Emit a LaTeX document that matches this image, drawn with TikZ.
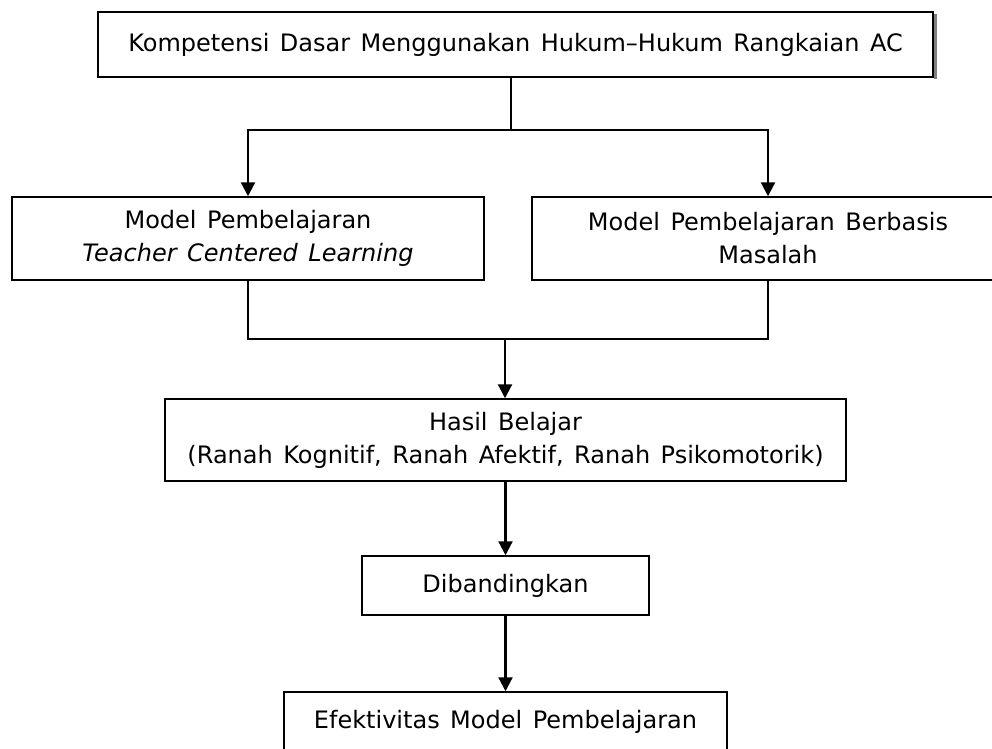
\documentclass[tikz,border=0pt]{standalone}
\usepackage{fontspec}
\setmainfont{DejaVu Sans}
\usetikzlibrary{arrows.meta}
\newcommand\boxfont{\fontsize{24}{33}\selectfont\spaceskip 10.5pt plus 2pt\relax}

\begin{document}
\begin{tikzpicture}[x=1pt, y=-1pt,
  every node/.style = {font=\boxfont},
  box/.style = {shape=rectangle, draw, line width=1.5pt,
    align=center, inner sep=0pt},
  link/.style = {line width=2.2pt},
  arrow/.style = {link, -{Triangle[length=14pt,width=14pt]}}]
  \useasboundingbox (0,0) rectangle (992,748);
  % boxes
  \node[box, minimum width=835, minimum height=65] (kd) at (515.5,44.5)
    {Kompetensi Dasar Menggunakan Hukum--Hukum Rangkaian AC};
  \draw[gray, line width=3pt] (935.5,14) -- (935.5,79);
  \node[box, minimum width=472, minimum height=83] (tcl) at (248,238.5)
    {Model Pembelajaran\\\textit{Teacher Centered Learning}};
  \node[box, minimum width=472, minimum height=83] (pbm) at (768,238.5)
    {Model Pembelajaran Berbasis\\Masalah};
  \node[box, minimum width=681, minimum height=82] (hasil) at (505.5,440)
    {Hasil Belajar\\(Ranah Kognitif, Ranah Afektif, Ranah Psikomotorik)};
  \node[box, minimum width=287, minimum height=59] (banding) at (505.5,585.5)
    {Dibandingkan};
  \node[box, minimum width=443, minimum height=60] (efek) at (505.5,722)
    {Efektivitas Model Pembelajaran};
  % connectors
  \coordinate (pisah) at (511,130);
  \coordinate (gabung) at (505,339);
  \draw[link] (kd.south -| pisah) -- (pisah);
  \draw[arrow] (pisah) -| (tcl.north);
  \draw[arrow] (pisah) -| (pbm.north);
  \draw[link] (tcl.south) |- (gabung);
  \draw[link] (pbm.south) |- (gabung);
  \draw[arrow] (gabung) -- (hasil.north -| gabung);
  \draw[arrow] (hasil.south) -- (banding.north);
  \draw[arrow] (banding.south) -- (efek.north);
\end{tikzpicture}
\end{document}
